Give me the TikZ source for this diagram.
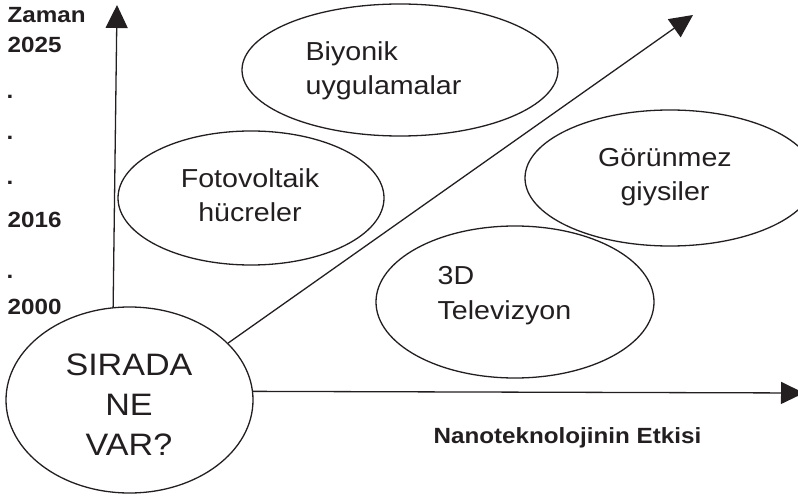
\documentclass[tikz,border=0pt]{standalone}
\usepackage{fontspec}
\setmainfont{Liberation Sans}[FakeStretch=1.1]
\usetikzlibrary{arrows.meta,shapes.geometric}
\definecolor{ink}{RGB}{35,31,32}

\begin{document}
\begin{tikzpicture}[x=1pt, y=-1pt, color=ink, line width=1.3pt,
  bubble/.style={ellipse, draw, inner sep=0pt},
  idea/.style={inner sep=0pt, font=\fontsize{26}{34}\selectfont},
  tick/.style={anchor=base west, inner sep=0pt, font=\fontsize{22}{26}\selectfont\bfseries},
  axis/.style={-{Triangle[length=23pt,width=22pt]}}]
\useasboundingbox (0,0) rectangle (798,497);
% bubbles
\node[bubble, minimum width=247pt, minimum height=186pt] (sirada) at (129.5,400) {};
\node[inner sep=0pt, align=center, anchor=base, font=\fontsize{31}{40}\selectfont] (siradatext) at (129,455) {SIRADA\\NE\\VAR?};
\node[bubble, minimum width=316pt, minimum height=132pt] (bion) at (400,70) {};
\node[idea, anchor=base west, align=left] (biontext) at (305,95) {Biyonik\\uygulamalar};
\node[bubble, minimum width=266pt, minimum height=134pt] (foto) at (251,198) {};
\node[idea, anchor=base, align=center] (fototext) at (250,222) {Fotovoltaik\\hücreler};
\node[bubble, minimum width=278pt, minimum height=152pt] (tv) at (515,302) {};
\node[idea, anchor=base west, align=left, font=\fontsize{26}{35}\selectfont] (tvtext) at (437,319) {3D\\Televizyon};
\node[bubble, minimum width=290pt, minimum height=136pt] (gor) at (670,178) {};
\node[idea, anchor=base, align=center] (gortext) at (665,201) {Görünmez\\giysiler};
% axes
\coordinate (ttip) at (117,5);
\coordinate (dtip) at (693,15);
\coordinate (htip) at (804,393);
\draw[axis] (sirada.100.8) -- (ttip);
\draw[axis] (sirada.30.5) -- (dtip);
\draw[axis] (sirada.4) -- (htip);
% labels
\node[tick] (zaman) at (7,23) {Zaman};
\node[tick] (y25) at (7,53) {2025};
\node[tick] (d1) at (6,99) {.};
\node[tick] (d2) at (6,140) {.};
\node[tick] (d3) at (6,185) {.};
\node[tick] (y16) at (7,228) {2016};
\node[tick] (d4) at (6,279) {.};
\node[tick] (y00) at (7,314) {2000};
\node[tick] (etki) at (433,443) {Nanoteknolojinin Etkisi};
\end{tikzpicture}
\end{document}
